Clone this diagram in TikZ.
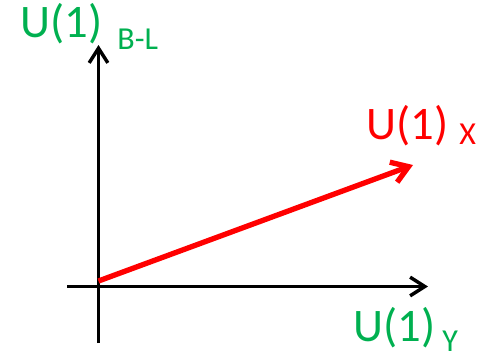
\documentclass[tikz,border=0pt]{standalone}
\usepackage{fontspec}
\setmainfont{Carlito}
\usepackage{tikz}
\usetikzlibrary{arrows.meta, positioning}

\definecolor{grpgreen}{RGB}{0,176,80}
\definecolor{grpred}{RGB}{255,0,0}

\tikzset{
  axis/.style={line width=2.6pt, -{Straight Barb[length=11pt,width=14pt]}},
  mix/.style={grpred, line width=4pt, -{Straight Barb[length=12pt,width=16pt]}},
  grp/.style={inner sep=0pt, anchor=base west, font=\fontsize{35}{38}\selectfont},
  sub/.style={inner sep=0pt, font=\fontsize{24}{27}\selectfont}
}

\begin{document}
\begin{tikzpicture}[x=0.75pt,y=-0.75pt]
  \useasboundingbox (0,0) rectangle (494,361);

  % axes
  \coordinate (ybot) at (98.5,343);
  \coordinate (ytop) at (98.5,45);
  \coordinate (xleft) at (67,286.5);
  \coordinate (xright) at (428,286.5);
  \draw[axis] (ybot) -- (ytop);
  \draw[axis] (xleft) -- (xright);

  % mixed direction
  \coordinate (orig) at (98.5,281);
  \coordinate (xtip) at (413,165);
  \draw[mix] (orig) -- (xtip);

  % labels
  \node[grp, text=grpgreen] (bl) at (20,37) {U(1)};
  \node[sub, text=grpgreen, base right=11pt of bl, yshift=-9pt] (blsub) {B-L};

  \node[grp, text=grpred] (ux) at (366,139) {U(1)};
  \node[sub, text=grpred, base right=8pt of ux, yshift=-4pt] (uxsub) {X};

  \node[grp, text=grpgreen] (uy) at (353,341) {U(1)};
  \node[sub, text=grpgreen, base right=5pt of uy, yshift=-8pt] (uysub) {Y};
\end{tikzpicture}
\end{document}
